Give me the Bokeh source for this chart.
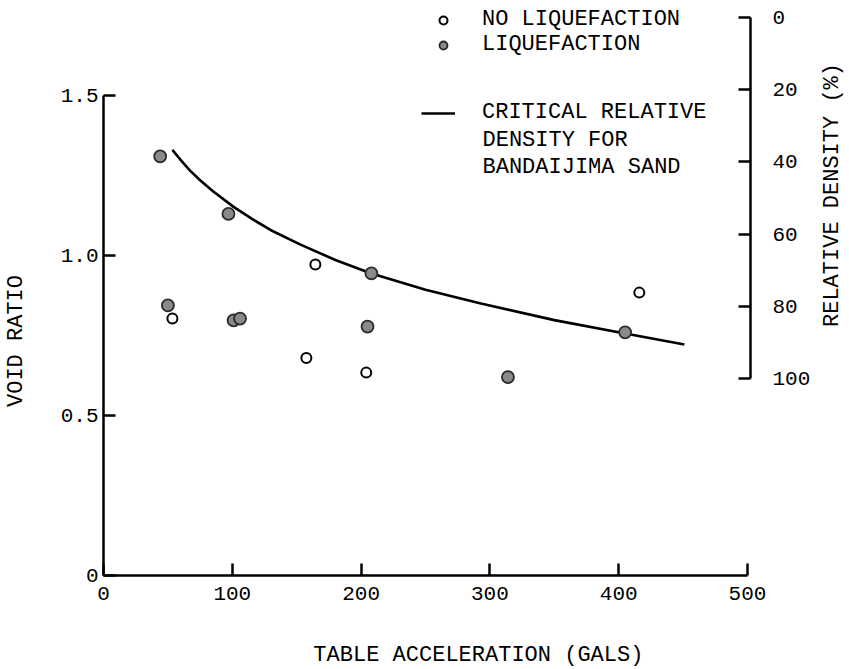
from math import pi
from bokeh.plotting import figure
from bokeh.models import (Range1d, LinearAxis, FixedTicker, Label, Legend, LegendItem)
from bokeh.embed import file_html
from bokeh.resources import INLINE

# ---- data ----
noliq_x = [53.5, 164.5, 157.5, 204, 416]
noliq_y = [0.803, 0.972, 0.68, 0.634, 0.884]

liq_x = [44, 97, 50, 101, 106, 208, 205, 314, 405]
liq_y = [1.31, 1.13, 0.844, 0.797, 0.803, 0.944, 0.778, 0.62, 0.76]

curve_x = [53.5, 60, 67, 75, 85, 101, 115, 130, 153, 180, 208, 250, 293, 350, 405, 451]
curve_y = [1.33, 1.298, 1.266, 1.235, 1.201, 1.152, 1.115, 1.079, 1.034, 0.986, 0.944,
           0.893, 0.85, 0.798, 0.756, 0.722]

x_ticks = [0, 100, 200, 300, 400, 500]
x_labels = ["0", "100", "200", "300", "400", "500"]
y_ticks = [0, 0.5, 1.0, 1.5]
y_labels = ["0", "0.5", "1.0", "1.5"]
rd_ticks = [0, 20, 40, 60, 80, 100]
rd_labels = ["0", "20", "40", "60", "80", "100"]

FONT = "Liberation Mono"

# ---- layout geometry (pixels) ----
W, H = 847, 667
X0_PX, XPX_PER_UNIT = 103, 1.288        # x = 0 position, px per gal
Y0_PX, YPX_PER_UNIT = 575, 320.0        # void ratio 0 position, px per unit
R0_PX, RPX_PER_UNIT = 17, 3.61          # relative density 0 position, px per %
RIGHT_AXIS_PX = 750

x_range = Range1d(-X0_PX / XPX_PER_UNIT, (W - X0_PX) / XPX_PER_UNIT)
y_range = Range1d(-(H - Y0_PX) / YPX_PER_UNIT, Y0_PX / YPX_PER_UNIT)
rd_range = Range1d((H - R0_PX) / RPX_PER_UNIT, -R0_PX / RPX_PER_UNIT)

p = figure(width=W, height=H, output_backend="svg", toolbar_location=None,
           x_range=x_range, y_range=y_range,
           x_axis_location=None, y_axis_location=None,
           min_border=0, min_border_left=0, min_border_right=0,
           min_border_top=0, min_border_bottom=0)
p.extra_y_ranges = {"rd": rd_range}
p.grid.grid_line_color = None
p.outline_line_color = None
p.background_fill_color = "white"
p.border_fill_color = "white"

def style_axis(ax, ticks, labels):
    ax.ticker = FixedTicker(ticks=ticks)
    ax.major_label_overrides = dict(zip(ticks, labels))
    ax.major_tick_in = 12
    ax.major_tick_out = 0
    ax.minor_tick_in = 0
    ax.minor_tick_out = 0
    ax.axis_line_width = 2.5
    ax.major_tick_line_width = 2.5
    ax.axis_line_color = "black"
    ax.major_tick_line_color = "black"
    ax.major_label_text_font = FONT
    ax.major_label_text_font_size = "21px"
    ax.major_label_text_color = "black"
    ax.bounds = (ticks[0], ticks[-1])

xax = LinearAxis(fixed_location=0)
style_axis(xax, x_ticks, x_labels)
xax.major_label_standoff = 11
p.add_layout(xax, "below")

yax = LinearAxis(fixed_location=0)
style_axis(yax, y_ticks, y_labels)
yax.major_label_standoff = 5
p.add_layout(yax, "left")

rax = LinearAxis(y_range_name="rd", fixed_location=(RIGHT_AXIS_PX - X0_PX) / XPX_PER_UNIT)
style_axis(rax, rd_ticks, rd_labels)
rax.major_label_standoff = 22
p.add_layout(rax, "right")

# ---- data glyphs ----
line_r = p.line(curve_x, curve_y, line_color="black", line_width=2.6)
liq_r = p.scatter(liq_x, liq_y, marker="circle", size=12, fill_color="#8a8a8a",
                  line_color="#2a2a2a", line_width=1.8)
noliq_r = p.scatter(noliq_x, noliq_y, marker="circle", size=10, fill_color="white",
                    line_color="black", line_width=2)

# ---- legends ----
common = dict(orientation="vertical", glyph_height=20, label_height=20,
              spacing=0, padding=0, margin=0,
              border_line_alpha=0, background_fill_alpha=0,
              label_text_font=FONT, label_text_font_size="22px", label_text_color="black")
leg1 = Legend(items=[LegendItem(label="NO LIQUEFACTION", renderers=[noliq_r]),
                     LegendItem(label="LIQUEFACTION", renderers=[liq_r])],
              location=(433, H - 57), glyph_width=20, label_standoff=29, **common)
p.add_layout(leg1, "center")

leg2 = Legend(items=[LegendItem(label="CRITICAL RELATIVE", renderers=[line_r])],
              location=(421, H - 125), glyph_width=34, label_standoff=27, **common)
p.add_layout(leg2, "center")

for txt, py in [("DENSITY FOR", 140), ("BANDAIJIMA SAND", 167)]:
    p.add_layout(Label(x=482, y=H - py, x_units="screen", y_units="screen", text=txt,
                       text_font=FONT, text_font_size="22px", text_baseline="middle",
                       text_align="left", text_color="black"))

# ---- axis titles ----
p.add_layout(Label(x=484.5, y=H - 655, x_units="screen", y_units="screen",
                   text="TABLE ACCELERATION  (GALS)", text_font=FONT, text_font_size="22px",
                   text_align="center", text_baseline="middle", text_color="black"))
p.add_layout(Label(x=16, y=H - 340.5, x_units="screen", y_units="screen",
                   text="VOID RATIO", text_font=FONT, text_font_size="22px", angle=pi / 2,
                   text_align="center", text_baseline="middle", text_color="black"))
p.add_layout(Label(x=832, y=H - 194.5, x_units="screen", y_units="screen",
                   text="RELATIVE DENSITY (%)", text_font=FONT, text_font_size="22px",
                   angle=pi / 2, text_align="center", text_baseline="middle", text_color="black"))

open("out.html", "w").write(file_html(p, INLINE))
